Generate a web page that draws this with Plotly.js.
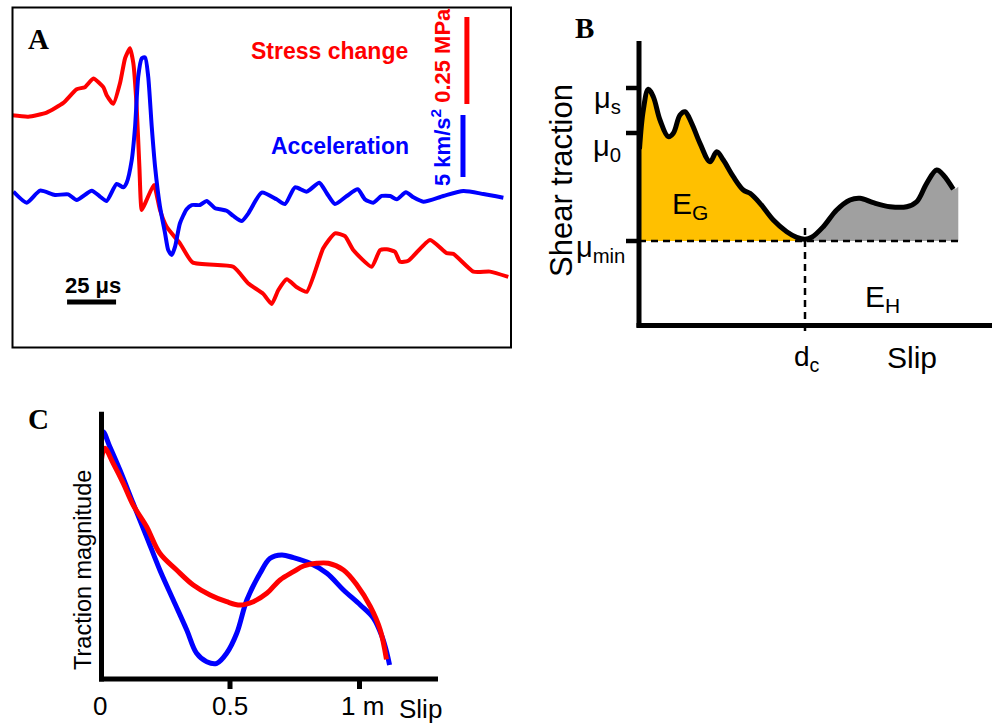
<!DOCTYPE html>
<html><head><meta charset="utf-8">
<script src="https://cdn.plot.ly/plotly-3.0.1.min.js"></script>
<style>html,body{margin:0;padding:0;background:#fff}#chart{width:992px;height:725px}</style>
</head><body><div id="chart"></div>
<script>
// ---------- Panel A : stress change (MPa) and acceleration (km/s^2) vs time (µs)
const timeStress = [-1.5, 8.3, 17.7, 26.2, 33.0, 37.2, 41.5, 46.6, 48.3, 51.7, 55.1, 57.7, 60.2, 61.9, 63.6, 65.0, 66.2, 68.7, 72.4, 75.5, 78.9, 85.7, 92.2, 112.9, 120.6, 128.2, 132.5, 135.9, 140.2, 145.3, 150.4, 158.8, 164.8, 169.9, 174.1, 183.5, 187.8, 191.2, 195.4, 198.0, 202.2, 213.3, 221.8, 225.2, 235.4, 243.9, 253.2];
const stressChange = [0.000, -0.005, 0.007, 0.035, 0.074, 0.080, 0.105, 0.080, 0.057, 0.032, 0.091, 0.163, 0.192, 0.149, 0.024, -0.149, -0.273, -0.244, -0.201, -0.273, -0.321, -0.369, -0.424, -0.436, -0.484, -0.514, -0.543, -0.503, -0.472, -0.495, -0.508, -0.383, -0.340, -0.348, -0.388, -0.436, -0.388, -0.386, -0.393, -0.422, -0.419, -0.359, -0.397, -0.399, -0.450, -0.450, -0.465];
const timeAccel = [0.7, 7.5, 14.3, 21.9, 28.7, 33.0, 40.7, 44.9, 48.3, 53.4, 56.8, 58.5, 61.1, 62.8, 64.4, 66.2, 67.9, 69.5, 71.3, 73.0, 75.5, 78.1, 79.7, 81.5, 83.2, 85.7, 89.1, 91.7, 95.9, 99.3, 103.6, 106.1, 109.5, 112.9, 117.2, 120.6, 127.4, 135.0, 139.3, 144.4, 150.4, 156.8, 160.6, 164.8, 170.8, 176.4, 180.1, 184.3, 188.6, 192.9, 196.3, 201.0, 204.8, 209.9, 220.1, 230.3, 240.5, 250.7];
const acceleration = [0.27, -0.62, 0.35, 0.00, 0.05, -0.40, 0.35, -0.13, -0.48, 0.89, 0.62, 0.99, 2.82, 5.51, 9.54, 11.02, 11.10, 9.54, 5.51, 2.28, -0.94, -3.09, -4.44, -4.84, -4.17, -2.28, -1.15, -0.81, -0.81, -0.48, -1.07, -1.15, -1.27, -1.69, -2.10, -1.48, 0.19, -0.35, -0.73, 0.62, 0.27, 0.99, 0.14, -0.73, -0.08, 0.46, -0.35, -0.62, -0.08, -0.08, -0.35, 0.22, -0.19, -0.54, -0.08, 0.32, 0.08, -0.22];
const stressBarMPa = 0.25, accelBarKms2 = 5, timeBarUs = 25;

// ---------- Panel B : conceptual shear traction vs slip
const slipB = [0.5, 4.3, 9.3, 14.3, 21, 29.3, 34.3, 41, 46, 52.7, 61, 71, 77.7, 84.3, 94.3, 104.3, 111, 121, 134.3, 147.7, 157.7, 166, 172.7, 184.3, 197.7, 211, 221, 234.3, 251, 267.7, 277.7, 287.7, 297.7, 304.3, 314.3];
const tractionB = [92, 131, 151.7, 144.3, 121, 104.3, 107.7, 126, 129.3, 117.7, 97.7, 79.3, 89.3, 81, 64.3, 51, 47.7, 37.7, 21, 9.3, 3.7, 1.7, 3.7, 14.3, 31, 41, 42.7, 38.3, 34.3, 34.3, 39.3, 57.7, 71, 66, 51.7];
const muS = 153, mu0 = 108, muMin = 0, dc = 166;
const heatEdgeSlip = 319.3, heatEdgeTraction = 54.3;

// ---------- Panel C : traction magnitude vs slip (m)
const slipCBlue = [0.000, 0.010, 0.036, 0.075, 0.126, 0.178, 0.229, 0.281, 0.333, 0.371, 0.410, 0.449, 0.487, 0.526, 0.565, 0.616, 0.655, 0.700, 0.745, 0.809, 0.874, 0.938, 1.003, 1.054, 1.087, 1.106, 1.116];
const tractionCBlue = [238, 246.3, 231.3, 208, 174.7, 141.3, 108, 78, 48, 24.7, 16.3, 14.7, 24.7, 44.7, 78, 104.7, 119.7, 123, 120.3, 114.7, 104.7, 88, 73, 59.7, 41.3, 24.7, 13];
const slipCRed = [0.000, 0.008, 0.017, 0.049, 0.088, 0.126, 0.178, 0.229, 0.294, 0.358, 0.423, 0.487, 0.539, 0.590, 0.642, 0.693, 0.745, 0.784, 0.835, 0.880, 0.938, 0.990, 1.042, 1.080, 1.104];
const tractionCRed = [208, 224.7, 229.7, 214.7, 194.7, 173, 151.3, 124.7, 108, 93, 83, 76.3, 73, 76.3, 84.7, 98, 106.3, 112, 114.7, 114.7, 108, 93, 71.3, 48, 18.7];
const tickValsC = [0.5, 1], tickLabelsC = ['0.5', '1 m'];

// ---------- helpers (page pixels -> paper fractions)
const W = 992, H = 725;
const PX = x => x / W, PY = y => 1 - y / H;
const SANS = 'Liberation Sans, Arial, sans-serif';
const SERIF = 'Liberation Serif, Times New Roman, serif';
const RED = '#ff0000', BLUE = '#0000ff', GOLD = '#ffc000', GRAY = '#a0a0a0';

// B fill pieces
const gIdx = slipB.map((s, i) => i).filter(i => slipB[i] <= dc);
const hIdx = slipB.map((s, i) => i).filter(i => slipB[i] >= dc);

const traces = [
  // A
  {x: timeStress, y: stressChange, xaxis: 'x', yaxis: 'y', mode: 'lines',
   line: {color: RED, width: 4, shape: 'spline', smoothing: 0.5}},
  {x: timeAccel, y: acceleration, xaxis: 'x', yaxis: 'y4', mode: 'lines',
   line: {color: BLUE, width: 4, shape: 'spline', smoothing: 0.6}},
  // B fills
  {x: gIdx.map(i => slipB[i]), y: gIdx.map(i => tractionB[i]), xaxis: 'x2', yaxis: 'y2',
   mode: 'lines', fill: 'tozeroy', fillcolor: GOLD, line: {width: 0, shape: 'spline', color: GOLD}},
  {x: hIdx.map(i => slipB[i]).concat([heatEdgeSlip]), y: hIdx.map(i => tractionB[i]).concat([heatEdgeTraction]),
   xaxis: 'x2', yaxis: 'y2', mode: 'lines', fill: 'tozeroy', fillcolor: GRAY, line: {width: 0, shape: 'spline', color: GRAY}},
  {x: slipB, y: tractionB, xaxis: 'x2', yaxis: 'y2', mode: 'lines',
   line: {color: '#000', width: 5, shape: 'spline', smoothing: 1}},
  // C
  {x: slipCBlue, y: tractionCBlue, xaxis: 'x3', yaxis: 'y3', mode: 'lines',
   line: {color: BLUE, width: 5, shape: 'spline', smoothing: 1}},
  {x: slipCRed, y: tractionCRed, xaxis: 'x3', yaxis: 'y3', mode: 'lines',
   line: {color: RED, width: 5, shape: 'spline', smoothing: 1}}
];

const hidden = {visible: false, showgrid: false, zeroline: false, fixedrange: true};

const shapes = [
  // A frame
  {type: 'rect', xref: 'paper', yref: 'paper', x0: PX(12.5), x1: PX(511), y0: PY(347.5), y1: PY(7.5),
   line: {color: '#000', width: 2}},
  // A scale bars
  {type: 'line', xref: 'x', yref: 'y', x0: 232.1, x1: 232.1, y0: 0.0316, y1: 0.0316 + stressBarMPa, line: {color: RED, width: 5}},
  {type: 'line', xref: 'x', yref: 'y4', x0: 230.1, x1: 230.1, y0: 1.45, y1: 1.45 + accelBarKms2, line: {color: BLUE, width: 5}},
  {type: 'line', xref: 'x', yref: 'y', x0: 28.1, x1: 28.1 + timeBarUs, y0: -0.537, y1: -0.537, line: {color: '#000', width: 5}},
  // B dashed reference lines
  {type: 'line', xref: 'x2', yref: 'y2', x0: 0, x1: heatEdgeSlip, y0: muMin, y1: muMin, line: {color: '#000', width: 2.5, dash: '7px,5px'}},
  {type: 'line', xref: 'x2', yref: 'y2', x0: dc, x1: dc, y0: 13, y1: -92, line: {color: '#000', width: 2.5, dash: '7px,5px'}},
  // B axes
  {type: 'line', xref: 'x2', yref: 'y2', x0: 0, x1: 0, y0: -86.5, y1: 200, line: {color: '#000', width: 5}},
  {type: 'line', xref: 'x2', yref: 'y2', x0: -2.5, x1: 353, y0: -84.5, y1: -84.5, line: {color: '#000', width: 5}},
  // B ticks
  ...[muS, mu0, muMin].map(v => ({type: 'line', xref: 'x2', yref: 'y2', x0: -13, x1: 0, y0: v, y1: v, line: {color: '#000', width: 4.5}})),
  // C axes
  {type: 'line', xref: 'paper', yref: 'paper', x0: PX(101.5), x1: PX(101.5), y0: PY(411.7), y1: PY(681.5), line: {color: '#000', width: 5}},
  {type: 'line', xref: 'paper', yref: 'paper', x0: PX(99), x1: PX(438), y0: PY(679), y1: PY(679), line: {color: '#000', width: 5}},
  // C ticks (in data units of the C axes, below the slip axis)
  ...tickValsC.map(v => ({type: 'line', xref: 'x3', yref: 'y3', x0: v, x1: v, y0: 0, y1: -11, line: {color: '#000', width: 5}}))
];

function ann(text, x, y, size, opts) {
  return Object.assign({text: text, xref: 'paper', yref: 'paper', x: PX(x), y: PY(y),
    showarrow: false, xanchor: 'center', yanchor: 'middle',
    font: {family: SANS, size: size, color: '#000'}}, opts || {});
}

const annotations = [
  // A
  ann('<b>A</b>', 38.5, 39, 29, {font: {family: SERIF, size: 29, color: '#000'}}),
  ann('<b>Stress change</b>', 410, 51, 23, {xanchor: 'right', font: {family: SANS, size: 23, color: RED}}),
  ann('<b>Acceleration</b>', 411, 146, 23, {xanchor: 'right', font: {family: SANS, size: 23, color: BLUE}}),
  ann('<b><span style="color:' + BLUE + '">5 km/s<sup>2</sup></span> <span style="color:' + RED + '">0.25 MPa</span></b>',
      441, 97, 22, {textangle: -90}),
  ann('<b>25 μs</b>', 93, 286, 22),
  // B
  ann('<b>B</b>', 584, 28, 29, {font: {family: SERIF, size: 29, color: '#000'}}),
  ann('Shear traction', 561, 181, 31, {textangle: -90}),
  ann('μ<sub>s</sub>', 623, 100, 29, {xanchor: 'right'}),
  ann('μ<sub>0</sub>', 623, 148, 29, {xanchor: 'right'}),
  ann('μ<sub>min</sub>', 627, 249, 29, {xanchor: 'right'}),
  ann('E<sub>G</sub>', 690, 205, 30),
  ann('E<sub>H</sub>', 882, 298, 30),
  ann('d<sub>c</sub>', 807, 358, 28),
  ann('Slip', 912, 357, 30),
  // C
  ann('<b>C</b>', 38.5, 419, 29, {font: {family: SERIF, size: 29, color: '#000'}}),
  ann('Traction magnitude', 83, 570, 23.5, {textangle: -90}),
  ann('0', 100, 706, 26),
  ann('Slip', 420, 709, 26)
];

const layout = {
  width: W, height: H, margin: {l: 0, r: 0, t: 0, b: 0},
  paper_bgcolor: '#fff', plot_bgcolor: 'rgba(0,0,0,0)',
  showlegend: false, hovermode: false,
  font: {family: SANS, color: '#000'},
  xaxis: Object.assign({domain: [PX(12), PX(511)], range: [0, 254.6], anchor: 'y'}, hidden),
  yaxis: Object.assign({domain: [PY(348), PY(7)], range: [-0.6695, 0.3103], anchor: 'x'}, hidden),
  yaxis4: Object.assign({overlaying: 'y', range: [-12.34, 15.16], anchor: 'x'}, hidden),
  xaxis2: Object.assign({domain: [PX(600), 1], range: [-39, 353], anchor: 'y2'}, hidden),
  yaxis2: Object.assign({domain: [PY(345), PY(20)], range: [-104, 221], anchor: 'x2'}, hidden),
  xaxis3: Object.assign({domain: [PX(100.5), PX(438)], range: [0, 1.303], anchor: 'y3'}, hidden),
  yaxis3: Object.assign({domain: [PY(694), PY(412)], range: [-16, 266], anchor: 'x3'}, hidden),
  shapes: shapes,
  annotations: annotations.concat(tickValsC.map((v, i) => ({
    text: tickLabelsC[i], xref: 'x3', yref: 'paper', x: v, y: PY(706), showarrow: false,
    xanchor: 'center', yanchor: 'middle', xshift: i === 1 ? 3 : 0,
    font: {family: SANS, size: 26, color: '#000'}})))
};

Plotly.newPlot('chart', traces, layout, {staticPlot: true, displayModeBar: false});
</script></body></html>
